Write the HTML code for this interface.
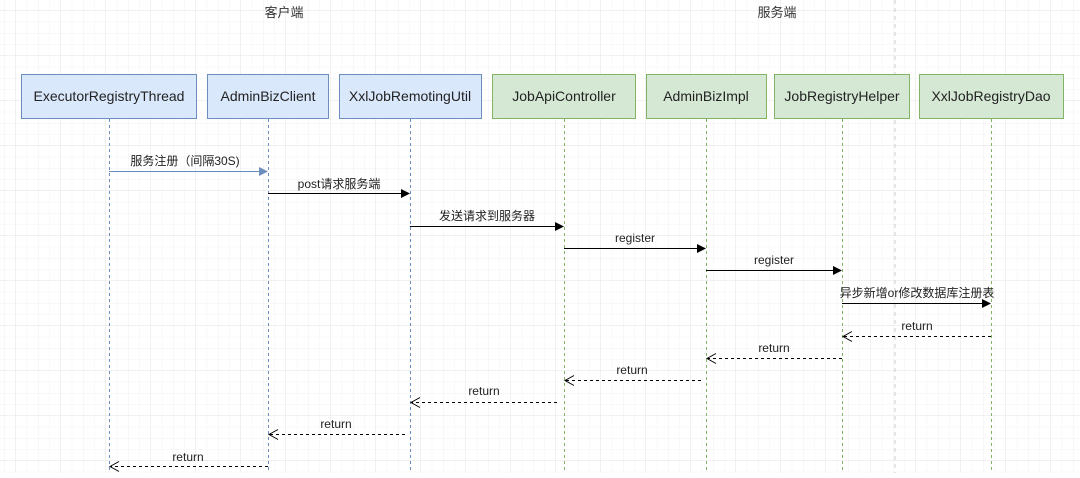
<!DOCTYPE html>
<html><head><meta charset="utf-8"><style>
html,body{margin:0;padding:0}
body{width:1080px;height:473px;overflow:hidden;background:#fff;font-family:"Liberation Sans","Noto Sans CJK SC",sans-serif;}
</style></head><body>
<svg width="1080" height="473" xmlns="http://www.w3.org/2000/svg" font-family="Liberation Sans, Noto Sans CJK SC, sans-serif">
<defs>
<pattern id="minor" x="16" y="11" width="11.25" height="11.25" patternUnits="userSpaceOnUse"><path d="M11.25 0V11.25H0" fill="none" stroke="#f2f2f2" stroke-width="1"/></pattern>
<pattern id="major" x="16" y="11" width="45" height="45" patternUnits="userSpaceOnUse"><path d="M45 0V45H0" fill="none" stroke="#e3e3e3" stroke-width="1"/></pattern>
</defs>
<rect width="1080" height="473" fill="url(#minor)"/>
<rect width="1080" height="473" fill="url(#major)"/>
<line x1="895" y1="0" x2="895" y2="473" stroke="#cccccc" stroke-dasharray="4 4"/>
<text x="284" y="17" font-size="13" text-anchor="middle" fill="#333">客户端</text>
<text x="777" y="17" font-size="13" text-anchor="middle" fill="#333">服务端</text>
<g font-size="14" text-anchor="middle" fill="#222">
<rect x="21.5" y="74.5" width="175" height="44" fill="#dae8fc" stroke="#6c8ebf"/><text x="109" y="101">ExecutorRegistryThread</text>
<rect x="207.5" y="74.5" width="121" height="44" fill="#dae8fc" stroke="#6c8ebf"/><text x="268" y="101">AdminBizClient</text>
<rect x="339.5" y="74.5" width="142" height="44" fill="#dae8fc" stroke="#6c8ebf"/><text x="410" y="101">XxlJobRemotingUtil</text>
<rect x="492.5" y="74.5" width="143" height="44" fill="#d5e8d4" stroke="#82b366"/><text x="564" y="101">JobApiController</text>
<rect x="646.5" y="74.5" width="120" height="44" fill="#d5e8d4" stroke="#82b366"/><text x="706" y="101">AdminBizImpl</text>
<rect x="774.5" y="74.5" width="135" height="44" fill="#d5e8d4" stroke="#82b366"/><text x="842" y="101">JobRegistryHelper</text>
<rect x="919.5" y="74.5" width="144" height="44" fill="#d5e8d4" stroke="#82b366"/><text x="991" y="101">XxlJobRegistryDao</text>
</g>
<g stroke-dasharray="3 3" stroke-width="1">
<line x1="109.5" y1="119" x2="109.5" y2="473" stroke="#6c8ebf"/>
<line x1="268.5" y1="119" x2="268.5" y2="473" stroke="#6c8ebf"/>
<line x1="410.5" y1="119" x2="410.5" y2="473" stroke="#6c8ebf"/>
<line x1="564.5" y1="119" x2="564.5" y2="473" stroke="#82b366"/>
<line x1="706.5" y1="119" x2="706.5" y2="473" stroke="#82b366"/>
<line x1="842.5" y1="119" x2="842.5" y2="473" stroke="#82b366"/>
<line x1="991.5" y1="119" x2="991.5" y2="473" stroke="#82b366"/>
</g>
<g font-size="12" fill="#222" text-anchor="middle">
<line x1="109" y1="171.5" x2="260" y2="171.5" stroke="#6c8ebf"/><path d="M268 171.5L259 167V176Z" fill="#6c8ebf"/>
<text x="185" y="165">服务注册（间隔30S)</text>
<line x1="268" y1="193.5" x2="402" y2="193.5" stroke="#000"/><path d="M410 193.5L401 189V198Z" fill="#000"/>
<text x="339" y="188">post请求服务端</text>
<line x1="410" y1="226.5" x2="556" y2="226.5" stroke="#000"/><path d="M564 226.5L555 222V231Z" fill="#000"/>
<text x="487" y="220">发送请求到服务器</text>
<line x1="564" y1="248.5" x2="698" y2="248.5" stroke="#000"/><path d="M706 248.5L697 244V253Z" fill="#000"/>
<text x="635" y="242">register</text>
<line x1="706" y1="270.5" x2="834" y2="270.5" stroke="#000"/><path d="M842 270.5L833 266V275Z" fill="#000"/>
<text x="774" y="264">register</text>
<line x1="842" y1="303.5" x2="983" y2="303.5" stroke="#000"/><path d="M991 303.5L982 299V308Z" fill="#000"/>
<text x="917" y="297">异步新增or修改数据库注册表</text>
<g stroke="#000" fill="none">
<line x1="991" y1="336.5" x2="844" y2="336.5" stroke-dasharray="3 3"/><path d="M852 331.5L843 336.5L852 341.5"/>
<line x1="842" y1="358.5" x2="708" y2="358.5" stroke-dasharray="3 3"/><path d="M716 353.5L707 358.5L716 363.5"/>
<line x1="701" y1="380.5" x2="566" y2="380.5" stroke-dasharray="3 3"/><path d="M574 375.5L565 380.5L574 385.5"/>
<line x1="557" y1="402.5" x2="412" y2="402.5" stroke-dasharray="3 3"/><path d="M420 397.5L411 402.5L420 407.5"/>
<line x1="405" y1="434.5" x2="270" y2="434.5" stroke-dasharray="3 3"/><path d="M278 429.5L269 434.5L278 439.5"/>
<line x1="268" y1="466.5" x2="111" y2="466.5" stroke-dasharray="3 3"/><path d="M119 461.5L110 466.5L119 471.5"/>
</g>
<text x="917" y="330">return</text>
<text x="774" y="352">return</text>
<text x="632" y="374">return</text>
<text x="484" y="395">return</text>
<text x="336" y="428">return</text>
<text x="188" y="461">return</text>
</g>
</svg>
</body></html>
